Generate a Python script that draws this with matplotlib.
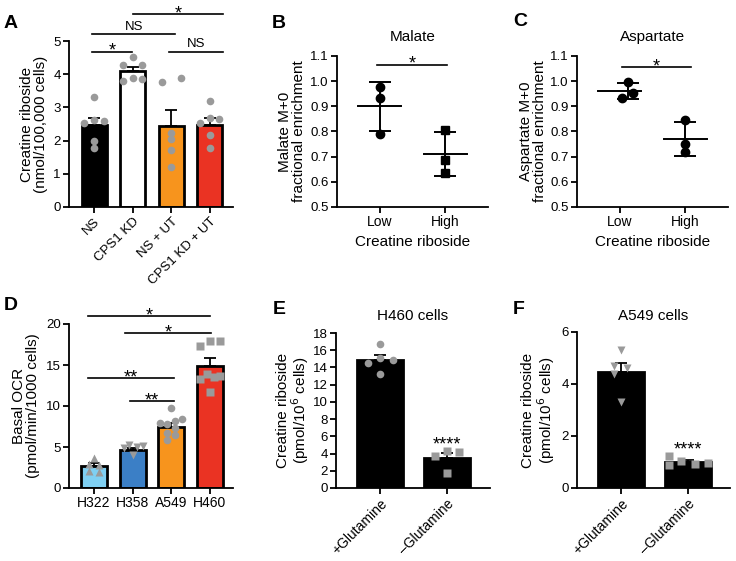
import matplotlib
matplotlib.use("Agg")
import matplotlib.pyplot as plt
import numpy as np

plt.rcParams['font.family'] = ['Liberation Sans', 'DejaVu Sans']
plt.rcParams['axes.linewidth'] = 1.3
plt.rcParams['xtick.major.width'] = 1.3
plt.rcParams['ytick.major.width'] = 1.3
plt.rcParams['xtick.major.size'] = 4
plt.rcParams['ytick.major.size'] = 4
plt.rcParams['xtick.labelsize'] = 9.5
plt.rcParams['ytick.labelsize'] = 9.5

# ---- data ----
# A: creatine riboside after CPS1 knockdown / urea treatment
a_groups = ["NS", "CPS1 KD", "NS + UT", "CPS1 KD + UT"]
a_means = [2.46, 4.10, 2.44, 2.47]
a_sem = [0.23, 0.13, 0.48, 0.21]
a_points = [[3.32, 2.52, 2.62, 2.60, 2.00, 1.79],
            [4.53, 4.28, 4.28, 3.80, 3.88, 3.85],
            [3.77, 3.90, 2.24, 2.04, 1.72, 1.20],
            [3.19, 2.54, 2.67, 2.64, 2.17, 1.79]]

# B / C: fractional enrichment, low vs high creatine riboside
bc_groups = ["Low", "High"]
malate_low = [0.975, 0.935, 0.790]
malate_high = [0.805, 0.688, 0.637]
asp_low = [0.995, 0.934, 0.952]
asp_high = [0.846, 0.749, 0.717]

# D: basal OCR per cell line
d_groups = ["H322", "H358", "A549", "H460"]
d_means = [2.63, 4.65, 7.50, 14.90]
d_sem = [0.37, 0.27, 0.45, 0.90]
d_points = [[3.60, 2.90, 2.80, 2.10, 2.00],
            [5.30, 5.03, 5.11, 4.83, 4.02],
            [9.80, 7.90, 7.80, 8.20, 8.40, 6.70, 6.45, 5.90, 7.30],
            [17.30, 17.90, 17.90, 13.35, 13.96, 13.55, 13.63, 11.70]]

# E / F: glutamine deprivation
ef_groups = ["+Glutamine", "\u2013Glutamine"]
e_means = [14.84, 3.49]
e_sem = [0.58, 0.57]
e_points = [[14.46, 15.04, 14.85, 16.67, 13.19], [3.74, 4.24, 4.22, 1.77]]
f_means = [4.46, 1.01]
f_sem = [0.33, 0.07]
f_points = [[5.32, 4.70, 4.60, 4.40, 3.30], [1.24, 0.90, 1.02, 0.93, 0.98]]

# ---- layout / style ----
a_jit = [[0, -0.26, 0, 0.25, 0, 0], [0, -0.25, 0.25, -0.25, 0, 0.25],
         [-0.25, 0.25, 0, 0, 0, 0], [0, -0.25, 0, 0.25, 0, 0]]
d_jit = [[0, -0.12, 0.12, -0.12, 0.12], [-0.1, 0.11, 0.27, -0.23, 0],
         [0, -0.28, -0.1, 0.1, 0.27, -0.1, 0.1, -0.1, 0.1],
         [-0.25, 0, 0.27, -0.25, -0.08, 0.1, 0.27, 0]]
d_marks = ['^', 'v', 'o', 's']
e_jit = [[-0.175, 0, 0.19, 0, 0], [-0.175, 0, 0.185, 0]]
f_jit = [[0, -0.1, 0.085, -0.1, 0], [-0.29, -0.29, -0.1, 0.1, 0.3]]
GRAY = "#9a9a9a"

W, H = 736, 561
fig = plt.figure(figsize=(W / 100, H / 100), dpi=100)


def add_ax(x0, y0, x1, y1):
    # pixel box -> figure axes
    return fig.add_axes([x0 / W, 1 - y1 / H, (x1 - x0) / W, (y1 - y0) / H])


def style(ax):
    for s in ("top", "right"):
        ax.spines[s].set_visible(False)
    ax.tick_params(direction="out", pad=2)


def star(ax, x, y, txt, size=13):
    # asterisks sit high in the font, so pull the baseline down a bit
    ax.annotate(txt, (x, y), xytext=(0, -3), textcoords="offset points",
                ha="center", va="baseline", fontsize=size,
                annotation_clip=False)


def sig(ax, x0, x1, y, txt):
    ax.plot([x0, x1], [y, y], color="black", lw=1.2, clip_on=False)
    xm = (x0 + x1) / 2
    if "*" in txt:
        star(ax, xm, y, txt)
    else:
        ax.annotate(txt, (xm, y), xytext=(0, 3), textcoords="offset points",
                    ha="center", va="baseline", fontsize=9.5,
                    annotation_clip=False)


def bar_panel(ax, means, sem, pts, jit, colors, width, marks=None):
    x = np.arange(len(means))
    ax.bar(x, means, width=width, color=colors, edgecolor="black",
           linewidth=2, zorder=2)
    ax.errorbar(x, means, yerr=[np.zeros(len(sem)), sem], fmt="none",
                ecolor="black", elinewidth=1.3, capsize=4, capthick=1.3,
                zorder=3)
    for i, vals in enumerate(pts):
        m = marks[i] if marks else 'o'
        ax.plot(x[i] + np.array(jit[i]), vals, m, color=GRAY, ms=5.5,
                mec="none", zorder=4, clip_on=False)
    ax.set_xticks(x)


def ylab(ax, txt, pad=4):
    ax.set_ylabel(txt, fontsize=11, linespacing=1.0, labelpad=pad)


# Panel A
axA = add_ax(69, 41, 233, 207)
style(axA)
bar_panel(axA, a_means, a_sem, a_points, a_jit,
          ["black", "white", "#f7941d", "#ea3323"], 0.65)
axA.set_xlim(-0.65, 3.6)
axA.set_ylim(0, 5)
axA.set_yticks(range(6))
axA.set_xticklabels(a_groups, rotation=45, ha="right", rotation_mode="anchor")
ylab(axA, "Creatine riboside\n(nmol/100,000 cells)")
sig(axA, -0.05, 0.98, 4.68, "*")
sig(axA, -0.05, 2.1, 5.21, "NS")
sig(axA, 1.02, 3.34, 5.8, "*")
sig(axA, 1.93, 3.34, 4.68, "NS")


def scatter_panel(ax, groups, lows, highs, mk_high, low_shift, jit_low):
    for i, (vals, mk) in enumerate([(lows, 'o'), (highs, mk_high)]):
        vals = np.array(vals)
        m, sd = vals.mean(), vals.std(ddof=1)
        ex = i + (low_shift if i == 0 else 0)
        ax.plot([i - 0.33, i + 0.33], [m, m], color="black", lw=1.4)
        ax.errorbar([ex], [m], yerr=[[sd], [sd]], fmt="none", ecolor="black",
                    elinewidth=1.4, capsize=8, capthick=1.4)
        off = np.array(jit_low) if i == 0 else np.zeros(len(vals))
        ax.plot(i + off, vals, mk, color="black", ms=6, zorder=4)
    ax.set_xticks([0, 1])
    ax.set_xticklabels(groups, fontsize=10)
    ax.set_xlim(-0.66, 1.66)
    ax.set_ylim(0.5, 1.1)
    ax.set_yticks(np.arange(0.5, 1.11, 0.1))
    ax.set_yticklabels([f"{v:.1f}" for v in np.arange(0.5, 1.11, 0.1)])
    ax.set_xlabel("Creatine riboside", fontsize=11, labelpad=4)


# Panel B
axB = add_ax(337, 56, 488, 207)
style(axB)
scatter_panel(axB, bc_groups, malate_low, malate_high, 's', 0, [0, 0, 0])
axB.set_title("Malate", fontsize=11, pad=11)
ylab(axB, "Malate M+0\nfractional enrichment", pad=3)
sig(axB, -0.05, 1.03, 1.065, "*")

# Panel C
axC = add_ax(577, 56, 728, 207)
style(axC)
scatter_panel(axC, bc_groups, asp_low, asp_high, 'o', 0.12, [0.12, 0.03, 0.2])
axC.set_title("Aspartate", fontsize=11, pad=11)
ylab(axC, "Aspartate M+0\nfractional enrichment", pad=2)
sig(axC, 0.03, 1.09, 1.055, "*")

# Panel D
axD = add_ax(69, 324, 233, 488)
style(axD)
bar_panel(axD, d_means, d_sem, d_points, d_jit,
          ["#7fd0f3", "#3b7fc6", "#f7941d", "#ea3323"], 0.68, marks=d_marks)
axD.set_xlim(-0.65, 3.6)
axD.set_ylim(0, 20)
axD.set_yticks([0, 5, 10, 15, 20])
axD.set_xticklabels(d_groups, fontsize=10)
ylab(axD, "Basal OCR\n(pmol/min/1000 cells)")
sig(axD, -0.16, 3.01, 20.97, "*")
sig(axD, 0.8, 3.03, 18.9, "*")
sig(axD, -0.16, 2.06, 13.36, "**")
sig(axD, 0.93, 2.06, 10.6, "**")

# Panel E
axE = add_ax(336, 333, 490, 488)
style(axE)
bar_panel(axE, e_means, e_sem, e_points, e_jit,
          ["black", "black"], 0.69, marks=['o', 's'])
axE.set_xlim(-0.66, 1.65)
axE.set_ylim(0, 18)
axE.set_yticks(range(0, 19, 2))
axE.set_xticklabels(ef_groups, rotation=45, ha="right", rotation_mode="anchor",
                    fontsize=10)
axE.set_title("H460 cells", fontsize=11, pad=9)
ylab(axE, "Creatine riboside\n(pmol/10$^6$ cells)", pad=1)
star(axE, 1, 5.0, "****", size=13)

# Panel F
axF = add_ax(577, 332, 730, 488)
style(axF)
bar_panel(axF, f_means, f_sem, f_points, f_jit,
          ["black", "black"], 0.68, marks=['v', 's'])
axF.set_xlim(-0.66, 1.63)
axF.set_ylim(0, 6)
axF.set_yticks([0, 2, 4, 6])
axF.set_xticklabels(ef_groups, rotation=45, ha="right", rotation_mode="anchor",
                    fontsize=10)
axF.set_title("A549 cells", fontsize=11, pad=9)
ylab(axF, "Creatine riboside\n(pmol/10$^6$ cells)", pad=3)
star(axF, 1, 1.45, "****", size=13)

# panel letters
for lab, px, py in [("A", 11, 24), ("B", 279, 23), ("C", 520, 22),
                    ("D", 11, 306), ("E", 279, 309), ("F", 519, 309)]:
    fig.text(px / W, 1 - py / H, lab, fontsize=14, fontweight="bold",
             ha="center", va="center")

fig.savefig("out.png", dpi=100)
